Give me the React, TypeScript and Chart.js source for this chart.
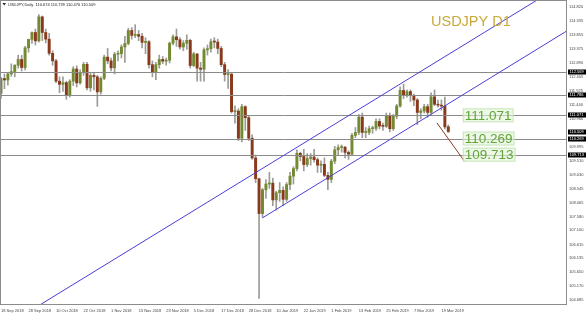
import React, { useEffect, useRef } from "react";
import { Chart, registerables } from "chart.js";
Chart.register(...registerables);

// ---- Data (USDJPY Daily, 18 Sep 2018 .. 21 Mar 2019) ----
const opens = [
  111.83,112.34,112.29,112.50,112.58,112.80,113.00,112.72,113.40,113.69,
  113.93,113.64,114.47,113.93,113.70,113.21,112.95,112.25,112.14,112.20,
  111.78,112.25,112.67,112.19,112.54,112.83,112.02,112.45,112.40,111.88,
  112.35,113.08,112.95,112.71,113.18,113.20,113.43,113.55,114.00,113.83,
  113.86,113.80,113.59,113.61,112.82,112.55,112.82,113.00,112.94,112.97,
  113.56,113.78,113.68,113.43,113.56,113.66,112.79,113.19,112.70,112.66,
  113.33,113.37,113.61,113.60,113.38,112.82,112.48,112.49,111.20,111.22,
  110.28,111.37,110.99,110.28,109.60,108.88,107.68,108.50,108.70,108.73,
  108.15,108.40,108.48,108.17,108.68,108.97,109.23,109.76,109.65,109.37,
  109.58,109.63,109.54,109.35,109.38,109.00,108.86,109.49,109.88,109.96,
  109.97,109.79,109.73,110.38,110.48,111.01,110.48,110.48,110.61,110.62,
  110.86,110.70,110.69,111.06,110.61,111.04,111.39,111.93,111.75,111.89,
  111.76,111.60,111.17,111.22,111.37,111.17,111.71,111.45,111.42,111.39,
  110.674,
];
const highs = [
  112.38,112.50,112.55,112.85,112.82,113.15,113.14,113.45,113.70,113.95,
  114.05,114.55,114.50,114.05,113.90,113.30,113.00,112.40,112.40,112.25,
  112.30,112.75,112.78,112.64,112.90,112.90,112.55,112.55,112.45,112.40,
  113.15,113.38,113.05,113.25,113.30,113.50,113.80,114.08,114.10,114.20,
  114.00,113.90,113.75,113.65,112.95,112.90,113.15,113.10,113.05,113.60,
  113.85,114.05,113.75,113.65,113.85,113.70,113.25,113.20,112.90,113.40,
  113.50,113.70,113.75,113.70,113.45,112.90,112.65,112.55,111.40,111.30,
  111.45,111.40,111.05,110.40,109.70,108.90,108.55,108.85,109.10,108.90,
  108.45,108.75,108.60,108.75,109.10,109.30,109.88,109.80,109.90,109.75,
  109.75,109.90,109.60,109.50,109.60,109.10,109.55,110.00,110.05,110.05,
  110.00,109.85,110.45,110.65,111.10,111.15,110.65,110.70,110.70,110.95,
  110.95,110.80,111.15,111.15,111.10,111.45,112.05,112.15,111.95,111.95,
  111.80,111.65,111.30,111.45,111.45,111.85,111.95,111.60,111.60,111.70,
  110.739,
];
const lows = [
  111.66,111.99,112.11,112.42,112.40,112.70,112.60,112.64,113.25,113.55,
  113.50,113.60,113.65,113.57,113.15,112.80,112.20,111.85,111.90,111.62,
  111.70,112.10,112.05,112.15,112.45,111.95,111.90,111.95,111.38,111.80,
  112.30,112.85,112.60,112.50,112.95,113.05,112.90,113.50,113.70,113.75,
  113.65,113.40,113.20,112.70,112.40,112.30,112.70,112.85,112.80,112.88,
  113.50,113.45,113.35,113.30,113.35,112.70,112.75,112.25,112.25,112.25,
  113.15,113.25,113.40,113.20,112.75,112.25,112.00,111.15,110.80,110.20,
  110.15,110.55,110.20,109.55,108.75,104.75,107.55,108.20,108.55,107.95,
  107.80,108.10,107.95,108.10,108.50,108.70,109.15,109.50,109.15,109.30,
  109.35,109.45,109.10,109.10,108.95,108.50,108.75,109.40,109.70,109.80,
  109.60,109.55,109.70,110.30,110.40,110.30,110.30,110.40,110.45,110.55,
  110.60,110.55,110.65,110.50,110.55,110.95,111.35,111.65,111.70,111.55,
  111.40,110.75,110.95,111.15,111.00,111.10,111.40,111.35,111.25,110.60,
  110.476,
];
const closes = [
  112.34,112.29,112.50,112.58,112.80,113.00,112.72,113.40,113.69,113.93,
  113.64,114.47,113.93,113.70,113.21,112.95,112.25,112.14,112.20,111.78,
  112.25,112.67,112.19,112.54,112.83,112.02,112.45,112.40,111.88,112.35,
  113.08,112.95,112.71,113.18,113.20,113.43,113.55,114.00,113.83,113.86,
  113.80,113.59,113.61,112.82,112.55,112.82,113.00,112.94,112.97,113.56,
  113.78,113.68,113.43,113.56,113.66,112.79,113.19,112.70,112.66,113.33,
  113.37,113.61,113.60,113.38,112.82,112.48,112.49,111.20,111.22,110.28,
  111.37,110.99,110.28,109.60,108.88,107.68,108.50,108.70,108.73,108.15,
  108.40,108.48,108.17,108.68,108.97,109.23,109.76,109.65,109.37,109.58,
  109.63,109.54,109.35,109.38,109.00,108.86,109.49,109.88,109.96,109.97,
  109.79,109.73,110.38,110.48,111.01,110.48,110.48,110.61,110.62,110.86,
  110.70,110.69,111.06,110.61,111.04,111.39,111.93,111.75,111.89,111.76,
  111.60,111.17,111.22,111.37,111.17,111.71,111.45,111.42,111.39,110.67,
  110.509,
];

const dateTickBars = [0, 8, 16, 24, 32, 40, 48, 56, 64, 72, 80, 88, 96, 104, 112, 120, 128];
const dateTickLabels = [
  "18 Sep 2018", "28 Sep 2018", "10 Oct 2018", "22 Oct 2018", "1 Nov 2018",
  "13 Nov 2018", "23 Nov 2018", "5 Dec 2018", "17 Dec 2018", "28 Dec 2018",
  "10 Jan 2019", "22 Jan 2019", "1 Feb 2019", "13 Feb 2019", "25 Feb 2019",
  "7 Mar 2019", "19 Mar 2019",
];
const priceTicks = [
  114.820, 114.335, 113.855, 113.375, 112.890, 112.405, 111.925, 111.440,
  110.960, 110.475, 109.995, 109.510, 109.030, 108.545, 108.065, 107.580,
  107.100, 106.615, 106.135, 105.650, 105.170, 104.685,
];
const levelLines = [112.569, 111.786, 111.071, 110.269, 109.713];
const axisMarkers = [112.569, 111.786, 111.071, 110.509, 110.269, 109.713];
const targetLabels = [111.071, 110.269, 109.713];
const channelUpper = [{ bar: 20, price: 105.16 }, { bar: 130, price: 113.17 }];
const channelLower = [{ bar: 76, price: 107.53 }, { bar: 130, price: 111.47 }];
const projection = [{ bar: 126.7, price: 110.81 }, { bar: 134.6, price: 109.50 }];
const targetLabelBar = 134.5;
const headerText = "USDJPY,Daily  110.674 110.739 110.476 110.509";
const titleText = "USDJPY D1";

const BULL = "#738a30";
const BEAR = "#8a3a1c";
const WICK = "#9c9c94";
const FONT = "'Liberation Sans', Arial, sans-serif";

export default function App() {
  const ref = useRef<HTMLCanvasElement | null>(null);

  useEffect(() => {
    document.body.style.margin = "0";
    const canvas = ref.current;
    if (!canvas) return;

    const bodyData = opens.map((o, i) => ({ x: i, y: [o, closes[i]] }));
    const wickData = highs.map((h, i) => ({ x: i, y: [lows[i], h] }));
    const bodyColors = opens.map((o, i) => (closes[i] >= o ? BULL : BEAR));

    const overlay = {
      id: "overlay",
      afterDatasetsDraw(chart: any) {
        const { ctx, chartArea: a, scales } = chart;
        const xs = scales.x, ys = scales.y;
        ctx.save();
        ctx.beginPath();
        ctx.rect(a.left, a.top, a.right - a.left, a.bottom - a.top);
        ctx.clip();
        ctx.strokeStyle = "#8a8a8a";
        ctx.lineWidth = 1;
        levelLines.forEach((v) => {
          const y = Math.round(ys.getPixelForValue(v)) + 0.5;
          ctx.beginPath();
          ctx.moveTo(a.left, y);
          ctx.lineTo(a.right, y);
          ctx.stroke();
        });
        const seg = (p: any[], back: boolean, fwd: boolean, color: string) => {
          const x1 = xs.getPixelForValue(p[0].bar), y1 = ys.getPixelForValue(p[0].price);
          const x2 = xs.getPixelForValue(p[1].bar), y2 = ys.getPixelForValue(p[1].price);
          const dx = x2 - x1, dy = y2 - y1;
          const k = 2000 / Math.hypot(dx, dy);
          ctx.strokeStyle = color;
          ctx.lineWidth = 1;
          ctx.beginPath();
          ctx.moveTo(back ? x1 - dx * k : x1, back ? y1 - dy * k : y1);
          ctx.lineTo(fwd ? x2 + dx * k : x2, fwd ? y2 + dy * k : y2);
          ctx.stroke();
        };
        seg(channelUpper, true, true, "#4a3fd6");
        seg(channelLower, false, true, "#4a3fd6");
        seg(projection, false, false, "#8b3a1c");
        ctx.restore();

        ctx.save();
        ctx.strokeStyle = "#8c8c8c";
        ctx.lineWidth = 1;
        ctx.strokeRect(a.left + 0.5, a.top - 0.5, a.right - a.left - 1, a.bottom - a.top);
        ctx.restore();
      },
      afterDraw(chart: any) {
        const { ctx, chartArea: a, scales } = chart;
        const xs = scales.x, ys = scales.y;
        ctx.save();
        ctx.font = `4px ${FONT}`;
        ctx.textBaseline = "middle";
        ctx.textAlign = "left";
        axisMarkers.forEach((v) => {
          const y = ys.getPixelForValue(v);
          ctx.fillStyle = "#000";
          ctx.fillRect(a.right + 1, Math.round(y) - 2.5, 18, 5);
          ctx.fillStyle = "#fff";
          ctx.fillText(v.toFixed(3), a.right + 2.5, y);
        });
        ctx.fillStyle = "#222";
        ctx.beginPath();
        ctx.moveTo(2.5, 3);
        ctx.lineTo(6, 3);
        ctx.lineTo(4.25, 5.5);
        ctx.closePath();
        ctx.fill();
        ctx.font = `4px ${FONT}`;
        ctx.textBaseline = "middle";
        ctx.fillText(headerText, 8, 4.5);
        ctx.font = `14.5px ${FONT}`;
        ctx.fillStyle = "#c9a93a";
        ctx.textBaseline = "alphabetic";
        ctx.fillText(titleText, 431, 26);
        ctx.font = `13.5px ${FONT}`;
        ctx.textBaseline = "middle";
        const lx = xs.getPixelForValue(targetLabelBar);
        targetLabels.forEach((v) => {
          const y = ys.getPixelForValue(v);
          const txt = v.toFixed(3);
          const w = ctx.measureText(txt).width + 4;
          ctx.fillStyle = "rgba(225,243,215,0.6)";
          ctx.fillRect(lx - 1, y - 7, w, 14);
          ctx.strokeStyle = "rgba(190,225,175,0.8)";
          ctx.lineWidth = 1;
          ctx.strokeRect(lx - 0.5, y - 6.5, w - 1, 13);
          ctx.fillStyle = "#62a53a";
          ctx.fillText(txt, lx + 1, y + 0.5);
        });
        ctx.restore();
      },
    };

    const chart = new Chart(canvas, {
      type: "bar",
      data: {
        datasets: [
          {
            data: bodyData as any,
            backgroundColor: bodyColors,
            barThickness: 2.3,
            grouped: false,
            minBarLength: 1,
          } as any,
          {
            data: wickData as any,
            backgroundColor: WICK,
            barThickness: 1,
            grouped: false,
          } as any,
        ],
      },
      options: {
        responsive: false,
        animation: false,
        devicePixelRatio: 1,
        layout: { padding: { top: 1, left: 0, right: 0, bottom: 0 } },
        plugins: { legend: { display: false }, tooltip: { enabled: false } },
        scales: {
          x: {
            type: "linear",
            min: -0.29,
            max: 164.5,
            offset: false,
            grid: { display: false, drawTicks: false, tickLength: 0 },
            border: { display: false },
            afterBuildTicks: (s: any) => {
              s.ticks = dateTickBars.map((v) => ({ value: v }));
            },
            afterFit: (s: any) => {
              s.height = 10;
              s.paddingLeft = 0;
              s.paddingRight = 0;
            },
            ticks: {
              autoSkip: false,
              maxRotation: 0,
              minRotation: 0,
              align: "start",
              padding: 3,
              color: "#444",
              font: { size: 4, family: FONT },
              callback: (value: any) => {
                const i = dateTickBars.indexOf(Number(value));
                return i >= 0 ? dateTickLabels[i] : "";
              },
            },
          } as any,
          y: {
            type: "linear",
            position: "right",
            min: 104.523,
            max: 115.017,
            grid: { display: false, drawTicks: false, tickLength: 0 },
            border: { display: false },
            afterBuildTicks: (s: any) => {
              s.ticks = priceTicks.map((v) => ({ value: v }));
            },
            afterFit: (s: any) => {
              s.width = 20;
              s.paddingTop = 0;
              s.paddingBottom = 0;
            },
            ticks: {
              autoSkip: false,
              padding: 2,
              color: "#444",
              font: { size: 4, family: FONT },
              callback: (value: any) => Number(value).toFixed(3),
            },
          } as any,
        },
      },
      plugins: [overlay],
    });
    return () => chart.destroy();
  }, []);

  return (
    <div style={{ position: "fixed", left: 0, top: 0, width: 587, height: 315, background: "#fff" }}>
      <canvas ref={ref} width={587} height={315} style={{ display: "block", width: 587, height: 315 }} />
    </div>
  );
}
